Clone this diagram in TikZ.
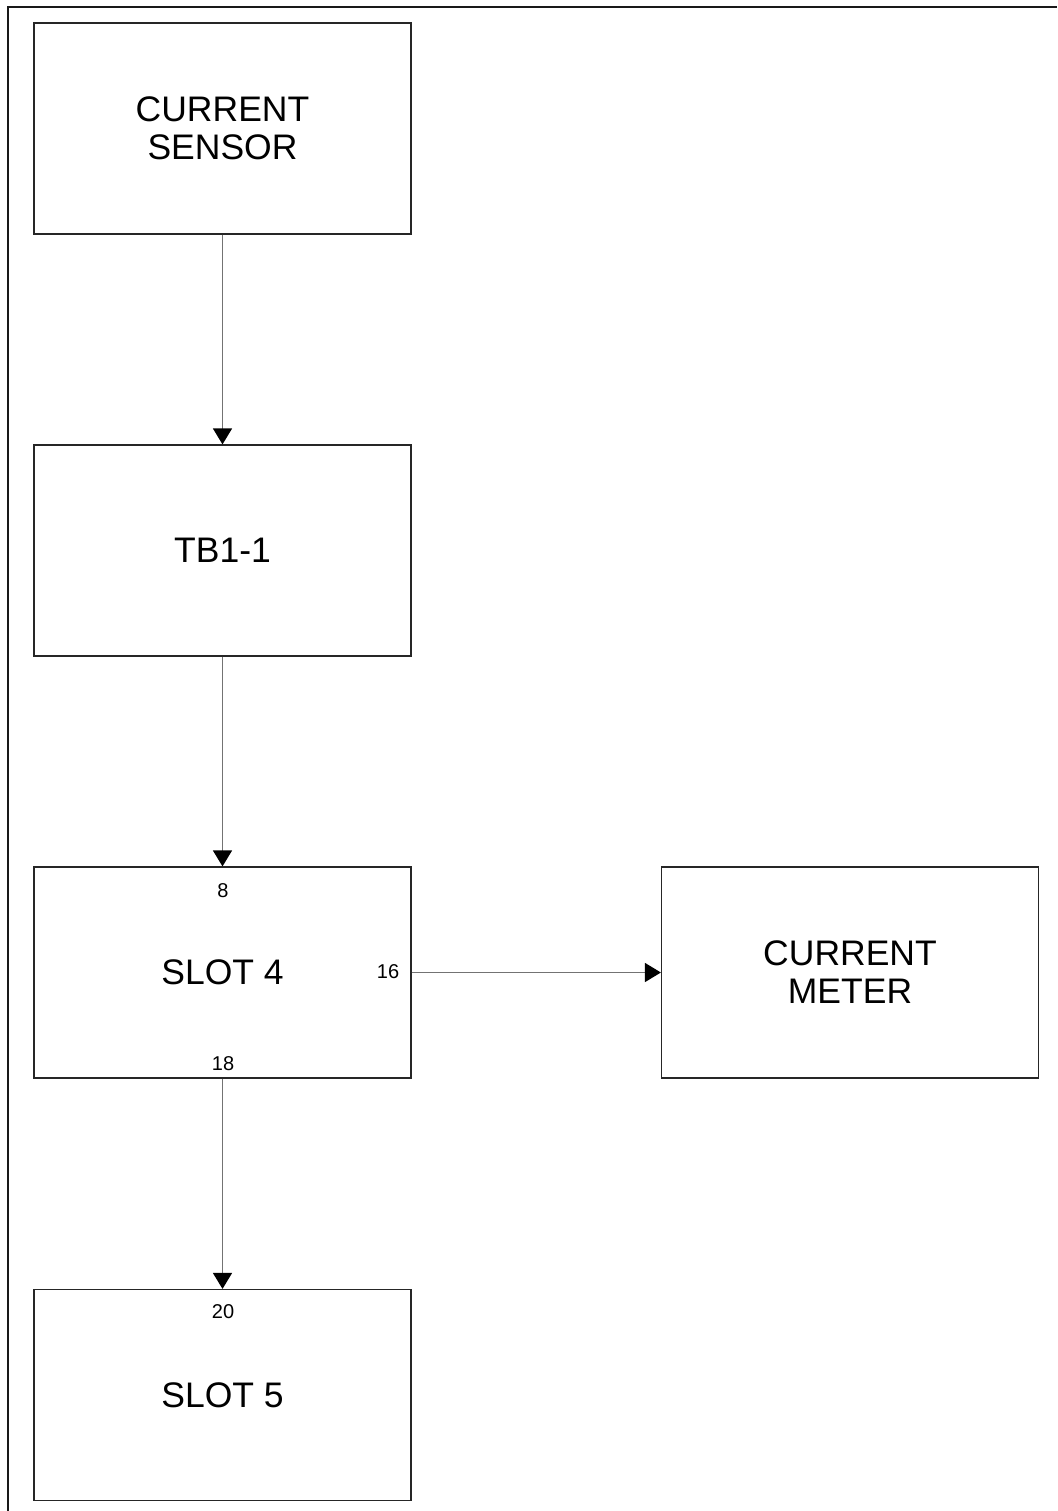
\documentclass[tikz,border=0pt]{standalone}
\usepackage{fontspec}
\setmainfont{Liberation Sans}
\usetikzlibrary{arrows.meta}
\begin{document}
\begin{tikzpicture}[x=1pt,y=-1pt,
  blk/.style={draw=black!85, line width=1.2pt, minimum width=377pt, minimum height=211pt, inner sep=0pt, align=center, font=\fontsize{35.5}{38}\selectfont},
  pin/.style={inner sep=0pt, font=\fontsize{20}{22}\selectfont},
  conn/.style={draw=black!55, line width=1.4pt, -{Triangle[length=16pt,width=19pt,fill=black,color=black]}}]
\useasboundingbox (0,0) rectangle (1057,1511);
\draw[line width=2pt, black!90] (8,1511) -- (8,7) -- (1057,7);
\node[blk] (cs) at (222.5,128.5) {CURRENT\\SENSOR};
\node[blk] (tb) at (222.5,550.5) {TB1-1};
\node[blk] (s4) at (222.5,972.5) {SLOT 4};
\node[blk] (cm) at (850,972.5) {CURRENT\\METER};
\node[blk] (s5) at (222.5,1395) {SLOT 5};
\node[pin] (p8) at (223,891) {8};
\node[pin] (p16) at (388,972) {16};
\node[pin] (p18) at (223,1064) {18};
\node[pin] (p20) at (223,1312) {20};
\draw[conn] (cs.south) -- (tb.north);
\draw[conn] (tb.south) -- (s4.north);
\draw[conn] (s4.east) -- (cm.west);
\draw[conn] (s4.south) -- (s5.north);
\end{tikzpicture}
\end{document}
